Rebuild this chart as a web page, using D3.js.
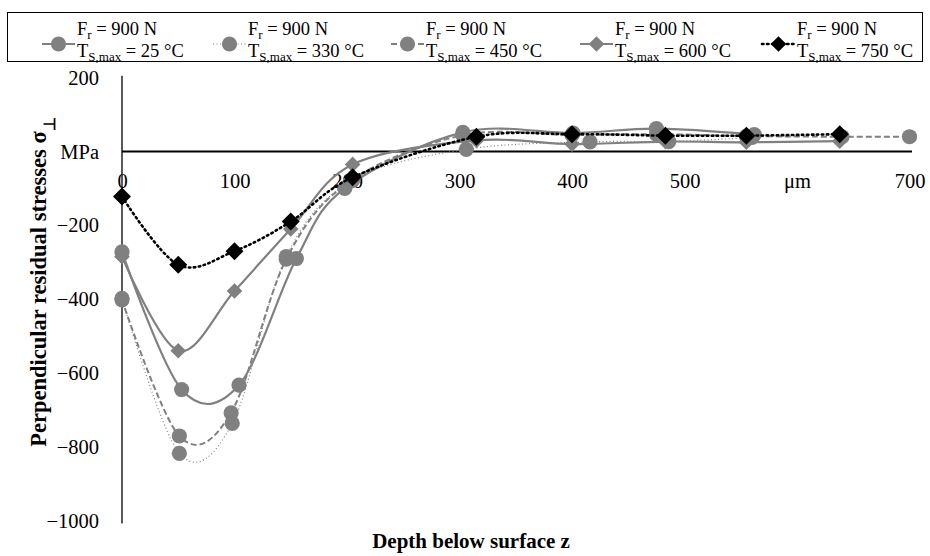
<!DOCTYPE html>
<html>
<head>
	<meta charset="utf-8">
	<title>Residual stresses</title>
	<script type="text/javascript" src="https://d3js.org/d3.v7.min.js"></script>
	<style>
		body { margin: 0; background: #fff; }
		svg text { font-family: "Liberation Serif", "Times New Roman", serif; fill: #000; }
		.title { font-weight: bold; }
		.legend text { font-size: 18.5px; }
	</style>
</head>
<body>
<svg id="chart" width="930" height="556"></svg>

<script type="text/javascript">
	var tempLabels = ["25", "330", "450", "600", "750"];

	var depth25 = [0, 53, 104, 155, 198, 303, 401, 475, 562];
	var stress25 = [-272, -645, -633, -290, -100, 52, 50, 62, 46];

	var depth330 = [0, 51, 98, 146, 205, 306, 416, 486, 560];
	var stress330 = [-398, -818, -737, -285, -78, 6, 26, 27, 38];

	var depth450 = [0, 51, 97, 146, 203, 303, 400, 475, 555, 640, 700];
	var stress450 = [-402, -771, -708, -292, -80, 44, 45, 47, 42, 40, 40];

	var depth600 = [0, 50, 100, 150, 205, 315, 400, 483, 555, 638];
	var stress600 = [-285, -540, -378, -210, -35, 30, 20, 27, 25, 28];

	var depth750 = [0, 50, 100, 150, 205, 315, 400, 483, 555, 638];
	var stress750 = [-122, -307, -270, -190, -70, 40, 47, 43, 43, 47];

	var xTicks = [0, 100, 200, 300, 400, 500, 600, 700];
	var yTicks = [200, 0, -200, -400, -600, -800, -1000];

	var svg = d3.select("#chart");

	var x = d3.scaleLinear().domain([0, 700]).range([122, 909.5]);
	var y = d3.scaleLinear().domain([-1000, 200]).range([520.5, 77.7]);

	// y axis at depth 0
	var yAxis = d3.axisLeft(y)
		.tickValues(yTicks)
		.tickSize(0)
		.tickPadding(23)
		.tickFormat(function(d){ return d === 0 ? "MPa" : d3.format("")(d); });
	var gy = svg.append("g")
		.attr("transform", "translate(" + x(0) + ",0)")
		.call(yAxis);
	gy.select(".domain").attr("stroke", "#000").attr("stroke-width", 1.3)
		.attr("d", "M0," + (y(200) - 2) + "V" + (y(-1000) + 3));
	gy.selectAll("text").style("font-size", "20.5px");

	// x axis at stress 0
	var xAxis = d3.axisBottom(x)
		.tickValues(xTicks)
		.tickSize(0)
		.tickPadding(22)
		.tickFormat(function(d){ return d === 600 ? "\u03bcm" : d; });
	var gx = svg.append("g")
		.attr("transform", "translate(0," + y(0) + ")")
		.call(xAxis);
	gx.select(".domain").attr("stroke", "#000").attr("stroke-width", 2)
		.attr("d", "M" + x(0) + ",0H912");
	gx.selectAll("text").style("font-size", "20.5px");

	// axis titles
	var yt = svg.append("text").attr("class", "title")
		.attr("text-anchor", "middle")
		.style("font-size", "22.5px")
		.attr("transform", "translate(46,282) rotate(-90)");
	yt.append("tspan").text("Perpendicular residual stresses \u03c3");
	yt.append("tspan").attr("baseline-shift", "sub").style("font-size", "16px").text("\u22a5");

	svg.append("text").attr("class", "title")
		.attr("text-anchor", "middle")
		.style("font-size", "21px")
		.attr("x", 471).attr("y", 548)
		.text("Depth below surface z");

	var series = [
		{ t: tempLabels[0], xs: depth25, ys: stress25, color: "#808080", dash: null, width: 2.2, marker: "circle" },
		{ t: tempLabels[1], xs: depth330, ys: stress330, color: "#808080", dash: "1,2.5", width: 1.2, marker: "circle" },
		{ t: tempLabels[2], xs: depth450, ys: stress450, color: "#808080", dash: "6,3", width: 2, marker: "circle" },
		{ t: tempLabels[3], xs: depth600, ys: stress600, color: "#808080", dash: null, width: 2.2, marker: "diamond" },
		{ t: tempLabels[4], xs: depth750, ys: stress750, color: "#000000", dash: "1.5,3.5", width: 2.6, marker: "diamond" }
	];

	var line = d3.line()
		.x(function(d){ return x(d[0]); })
		.y(function(d){ return y(d[1]); })
		.curve(d3.curveCardinal.tension(0));

	function drawMarker(g, kind, color, cx, cy, big) {
		if (kind === "circle") {
			g.append("circle").attr("cx", cx).attr("cy", cy).attr("r", 7.6).attr("fill", color);
		} else {
			var s = big ? 9 : 7.8;
			g.append("path")
				.attr("d", "M" + cx + "," + (cy - s) + "L" + (cx + s) + "," + cy + "L" + cx + "," + (cy + s) + "L" + (cx - s) + "," + cy + "Z")
				.attr("fill", color);
		}
	}

	series.forEach(function(s) {
		var pts = s.xs.map(function(d, i){ return [d, s.ys[i]]; });
		var g = svg.append("g");
		g.append("path")
			.attr("d", line(pts))
			.attr("fill", "none")
			.attr("stroke", s.color)
			.attr("stroke-width", s.width)
			.attr("stroke-linecap", s.dash && s.color === "#000000" ? "round" : "butt")
			.attr("stroke-dasharray", s.dash);
		pts.forEach(function(p) {
			drawMarker(g, s.marker, s.color, x(p[0]), y(p[1]), s.color === "#000000");
		});
	});

	// legend
	var legend = svg.append("g").attr("class", "legend");
	legend.append("rect")
		.attr("x", 7.5).attr("y", 12.5).attr("width", 915).attr("height", 49)
		.attr("fill", "none").attr("stroke", "#000").attr("stroke-width", 1);

	var legendX = [42, 213, 391, 580, 762];
	series.forEach(function(s, i) {
		var lx = legendX[i];
		var g = legend.append("g");
		g.append("line")
			.attr("x1", lx).attr("x2", lx + 33).attr("y1", 44).attr("y2", 44)
			.attr("stroke", s.color)
			.attr("stroke-width", s.width)
			.attr("stroke-linecap", s.dash && s.color === "#000000" ? "round" : "butt")
			.attr("stroke-dasharray", s.dash);
		drawMarker(g, s.marker, s.color, lx + 16.5, 44, false);

		var t1 = g.append("text").attr("x", lx + 35).attr("y", 35);
		t1.append("tspan").text("F");
		t1.append("tspan").attr("dy", 4).style("font-size", "13px").text("r");
		t1.append("tspan").attr("dy", -4).text(" = 900 N");

		var t2 = g.append("text").attr("x", lx + 35).attr("y", 56.5);
		t2.append("tspan").text("T");
		t2.append("tspan").attr("dy", 4).style("font-size", "13px").text("S,max");
		t2.append("tspan").attr("dy", -4).text(" = " + s.t + " \u00b0C");
	});
</script>
</body>
</html>
